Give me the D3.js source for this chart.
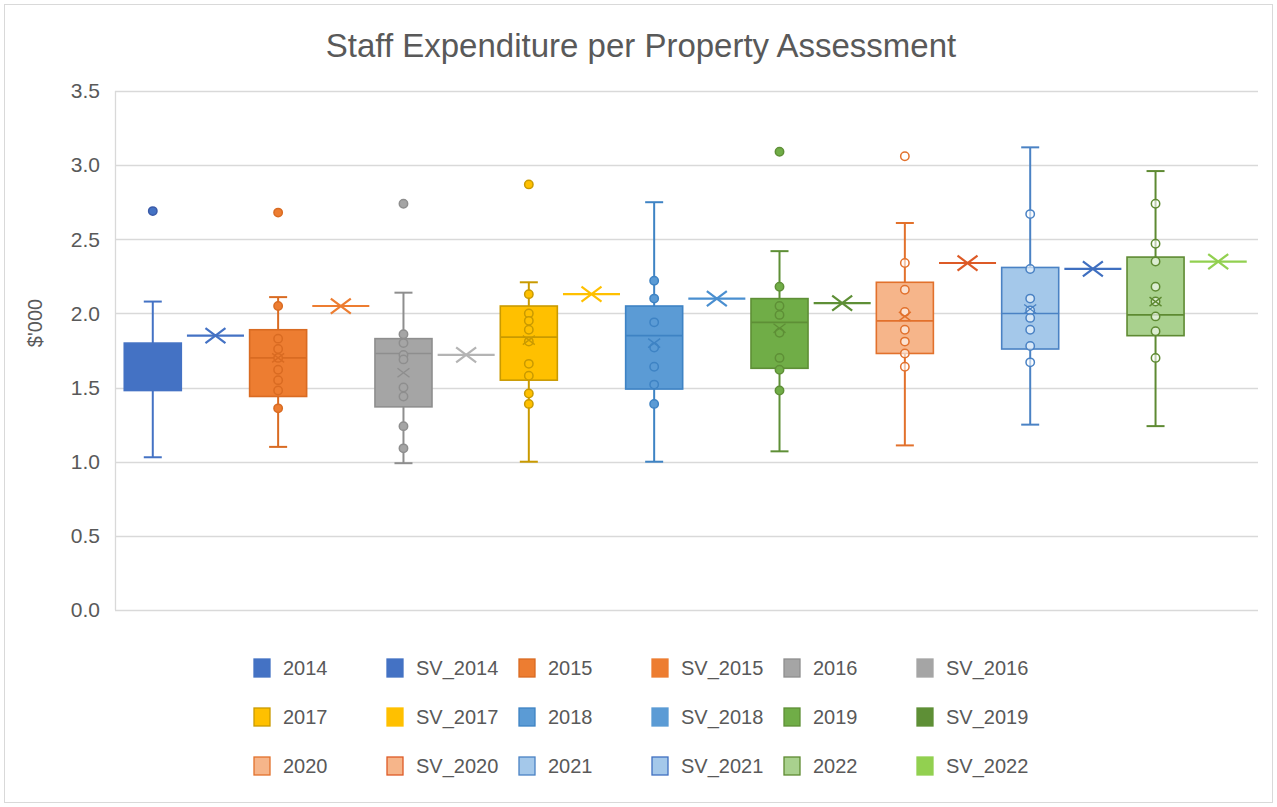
<!DOCTYPE html>
<html lang="en">
    <head>
        <meta charset="utf-8">
        <title>Staff Expenditure per Property Assessment</title>
        <script src="https://d3js.org/d3.v7.min.js"></script>
        <style type="text/css">
            body { margin: 0; background: #fff; }
            text { font-family: "Liberation Sans", Arial, sans-serif; fill: #595959; }
        </style>
    </head>
    <body>
        <script type="text/javascript">

            const w = 1277;
            const h = 807;

            // data ($'000)
            const years = ["2014", "2015", "2016", "2017", "2018", "2019", "2020", "2021", "2022"];
            const boxMin    = [1.03, 1.10, 0.99, 1.00, 1.00, 1.07, 1.11, 1.25, 1.24];
            const boxQ1     = [1.48, 1.44, 1.37, 1.55, 1.49, 1.63, 1.73, 1.76, 1.85];
            const boxMedian = [1.62, 1.70, 1.73, 1.84, 1.85, 1.94, 1.95, 2.00, 1.99];
            const boxQ3     = [1.80, 1.89, 1.83, 2.05, 2.05, 2.10, 2.21, 2.31, 2.38];
            const boxMax    = [2.08, 2.11, 2.14, 2.21, 2.75, 2.42, 2.61, 3.12, 2.96];
            const boxMean   = [1.66, 1.70, 1.60, 1.82, 1.80, 1.90, 1.98, 2.03, 2.08];
            const outliers  = [[2.69], [2.68], [2.74], [2.87], [], [3.09], [3.06], [], []];
            const innerPoints = [
                [],
                [2.05, 1.83, 1.76, 1.70, 1.62, 1.55, 1.48, 1.36],
                [1.86, 1.80, 1.72, 1.69, 1.50, 1.44, 1.24, 1.09],
                [2.13, 2.00, 1.95, 1.89, 1.81, 1.66, 1.58, 1.46, 1.39],
                [2.22, 2.10, 1.94, 1.77, 1.64, 1.52, 1.39],
                [2.18, 2.05, 1.99, 1.87, 1.70, 1.62, 1.48],
                [2.34, 2.16, 2.01, 1.89, 1.81, 1.73, 1.64],
                [2.67, 2.30, 2.10, 2.02, 1.97, 1.89, 1.78, 1.67],
                [2.74, 2.47, 2.35, 2.18, 2.08, 1.98, 1.88, 1.70]
            ];
            const svValues  = [1.85, 2.05, 1.72, 2.13, 2.10, 2.07, 2.34, 2.30, 2.35];
            const yTicks = [0, 0.5, 1.0, 1.5, 2.0, 2.5, 3.0, 3.5];

            // colours per year: box fill, line colour, sv colour, sv legend swatch
            const boxFill   = ["#4472C4", "#ED7D31", "#A5A5A5", "#FFC000", "#5B9BD5", "#70AD47", "#F6B58A", "#A4C8EA", "#A9D18E"];
            const boxLine   = ["#4472C4", "#D96B22", "#8E8E8E", "#C99A00", "#3E83C4", "#5E8F36", "#E2712C", "#4A82C4", "#5E8A32"];
            const svColor   = ["#4472C4", "#ED7D31", "#B4B4B4", "#FFC000", "#4A8FD0", "#5E8F36", "#DD5A26", "#3F6FC0", "#92D050"];
            const svSwatch  = ["#4472C4", "#ED7D31", "#A5A5A5", "#FFC000", "#5B9BD5", "#5E8F36", "#F6B58A", "#A4C8EA", "#92D050"];
            const lightBox  = [false, false, false, false, false, false, true, true, true];

            const seriesNames = [];
            years.forEach(y => { seriesNames.push(y); seriesNames.push("SV_" + y); });

            const xScale = d3.scaleBand()
                             .domain(seriesNames)
                             .range([118, 1253])
                             .paddingInner(0.09)
                             .paddingOuter(0.1);

            const yScale = d3.scaleLinear()
                             .domain([0, 3.5])
                             .range([610, 91]);

            const svg = d3.select("body")
                          .append("svg")
                          .attr("width", w)
                          .attr("height", h);

            // chart border
            svg.append("rect")
               .attr("x", 4.5).attr("y", 4.5)
               .attr("width", w - 9).attr("height", h - 9)
               .attr("fill", "#fff")
               .attr("stroke", "#D9D9D9");

            // title
            svg.append("text")
               .attr("x", 641)
               .attr("y", 57)
               .attr("text-anchor", "middle")
               .style("font-size", "33px")
               .text("Staff Expenditure per Property Assessment");

            // gridlines
            svg.append("g")
               .selectAll("line")
               .data(yTicks)
               .enter()
               .append("line")
               .attr("x1", 115)
               .attr("x2", 1258)
               .attr("y1", d => Math.round(yScale(d)) + 0.5)
               .attr("y2", d => Math.round(yScale(d)) + 0.5)
               .attr("stroke", "#D9D9D9")
               .attr("stroke-width", 1.3);

            svg.append("line")
               .attr("x1", 115.5).attr("x2", 115.5)
               .attr("y1", yScale(3.5)).attr("y2", yScale(0))
               .attr("stroke", "#D9D9D9")
               .attr("stroke-width", 1.3);

            // y axis labels
            const leftAxis = d3.axisLeft(yScale)
                               .tickValues(yTicks)
                               .tickFormat(d3.format(".1f"))
                               .tickSize(0)
                               .tickPadding(15);

            const yAxisG = svg.append("g")
                              .attr("transform", "translate(115,0)")
                              .call(leftAxis);
            yAxisG.select(".domain").remove();
            yAxisG.selectAll("text")
                  .style("font-size", "21px")
                  .style("font-family", "Liberation Sans, Arial, sans-serif")
                  .attr("fill", "#595959");

            svg.append("text")
               .attr("transform", "translate(42,323) rotate(-90)")
               .attr("text-anchor", "middle")
               .style("font-size", "20px")
               .text("$'000");

            const bw = xScale.bandwidth();
            const capW = 18;

            const xMark = (g, cx, cy, r, color, sw) => {
                g.append("path")
                 .attr("d", `M${cx - r},${cy - r * 0.75}L${cx + r},${cy + r * 0.75}M${cx - r},${cy + r * 0.75}L${cx + r},${cy - r * 0.75}`)
                 .attr("stroke", color)
                 .attr("stroke-width", sw)
                 .attr("fill", "none");
            };

            years.forEach((yr, i) => {
                const g = svg.append("g").attr("class", "box");
                const x0 = xScale(yr);
                const cx = x0 + bw / 2;
                const line = boxLine[i];

                // whiskers
                g.append("line")
                 .attr("x1", cx).attr("x2", cx)
                 .attr("y1", yScale(boxMax[i])).attr("y2", yScale(boxQ3[i]))
                 .attr("stroke", line).attr("stroke-width", 2);
                g.append("line")
                 .attr("x1", cx).attr("x2", cx)
                 .attr("y1", yScale(boxQ1[i])).attr("y2", yScale(boxMin[i]))
                 .attr("stroke", line).attr("stroke-width", 2);
                [boxMax[i], boxMin[i]].forEach(v => {
                    g.append("line")
                     .attr("x1", cx - capW / 2).attr("x2", cx + capW / 2)
                     .attr("y1", yScale(v)).attr("y2", yScale(v))
                     .attr("stroke", line).attr("stroke-width", 2);
                });

                // box
                g.append("rect")
                 .attr("x", x0)
                 .attr("y", yScale(boxQ3[i]))
                 .attr("width", bw)
                 .attr("height", yScale(boxQ1[i]) - yScale(boxQ3[i]))
                 .attr("fill", boxFill[i])
                 .attr("stroke", line)
                 .attr("stroke-width", 1.6);

                // median (hidden on the first, solid box)
                g.append("line")
                 .attr("x1", x0).attr("x2", x0 + bw)
                 .attr("y1", yScale(boxMedian[i])).attr("y2", yScale(boxMedian[i]))
                 .attr("stroke", i === 0 ? boxFill[i] : line).attr("stroke-width", 1.6);

                // inner points
                g.selectAll("circle.inner")
                 .data(innerPoints[i])
                 .enter()
                 .append("circle")
                 .attr("class", "inner")
                 .attr("cx", cx)
                 .attr("cy", d => yScale(d))
                 .attr("r", 4.2)
                 .attr("fill", lightBox[i] ? "#fff" : boxFill[i])
                 .attr("fill-opacity", lightBox[i] ? 0.6 : 1)
                 .attr("stroke", line)
                 .attr("stroke-width", 1.5);

                // mean marker
                if (i > 0) xMark(g, cx, yScale(boxMean[i]), 6, line, 1.4);

                // outliers
                g.selectAll("circle.out")
                 .data(outliers[i])
                 .enter()
                 .append("circle")
                 .attr("class", "out")
                 .attr("cx", cx)
                 .attr("cy", d => yScale(d))
                 .attr("r", 4.2)
                 .attr("fill", lightBox[i] ? "#fff" : boxFill[i])
                 .attr("stroke", i === 0 ? "#3A5AA8" : line)
                 .attr("stroke-width", 1.5);

                // single value series
                const sx0 = xScale("SV_" + yr);
                const sy = yScale(svValues[i]);
                g.append("line")
                 .attr("x1", sx0).attr("x2", sx0 + bw)
                 .attr("y1", sy).attr("y2", sy)
                 .attr("stroke", svColor[i]).attr("stroke-width", 2.2);
                xMark(g, sx0 + bw / 2, sy, 10, svColor[i], 2.2);
            });

            // legend
            const legendCols = [262, 395, 527, 660, 792, 925];
            const legendRows = [668, 717, 766];

            const legend = svg.selectAll(".legend")
                              .data(seriesNames)
                              .enter()
                              .append("g")
                              .attr("class", "legend")
                              .attr("transform", (d, i) => `translate(${legendCols[i % 6]},${legendRows[Math.floor(i / 6)]})`);

            legend.append("rect")
                  .attr("x", -8)
                  .attr("y", -9)
                  .attr("width", 16)
                  .attr("height", 18)
                  .attr("fill", (d, i) => {
                      const k = Math.floor(i / 2);
                      return i % 2 ? svSwatch[k] : boxFill[k];
                  })
                  .attr("stroke", (d, i) => {
                      const k = Math.floor(i / 2);
                      return i % 2 ? (lightBox[k] && k < 8 ? svColor[k] : svSwatch[k]) : boxLine[k];
                  })
                  .attr("stroke-width", 1.3);

            legend.append("text")
                  .attr("x", 21)
                  .attr("y", 0)
                  .attr("dy", ".36em")
                  .style("font-size", "20px")
                  .text(d => d);

        </script>
    </body>
</html>
